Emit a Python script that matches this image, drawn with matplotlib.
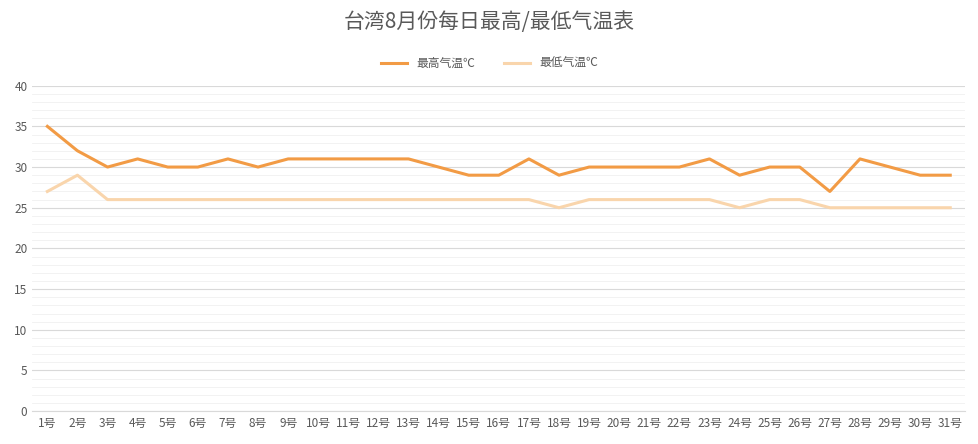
import matplotlib
matplotlib.use("Agg")
import matplotlib.pyplot as plt
from matplotlib import font_manager
from matplotlib.ticker import MultipleLocator

cjk = [f.name for f in font_manager.fontManager.ttflist if 'CJK' in f.name or 'Noto Sans SC' in f.name]
pref = [n for n in ['Noto Sans CJK SC', 'Noto Sans CJK JP', 'Noto Sans CJK TC', 'Noto Sans CJK KR'] if n in cjk] + cjk
plt.rcParams['font.family'] = 'sans-serif'
plt.rcParams['font.sans-serif'] = pref + ['DejaVu Sans']

days = [f"{i}号" for i in range(1, 32)]
high = [35,32,30,31,30,30,31,30,31,31,31,31,31,30,29,29,31,29,30,30,30,30,31,29,30,30,27,31,30,29,29]
low = [27,29,26,26,26,26,26,26,26,26,26,26,26,26,26,26,26,25,26,26,26,26,26,25,26,26,25,25,25,25,25]

fig = plt.figure(figsize=(9.79, 4.44), dpi=100)
ax = fig.add_axes([0.033, 0.074, 0.953, 0.733])
x = list(range(len(days)))
ax.plot(x, high, color='#F29B45', lw=2.2, label='最高气温℃')
ax.plot(x, low, color='#F9D5AC', lw=2.2, label='最低气温℃')
ax.set_xlim(-0.5, len(days) - 0.5)
ax.set_ylim(0, 40)
ax.yaxis.set_major_locator(MultipleLocator(5))
ax.yaxis.set_minor_locator(MultipleLocator(1))
ax.grid(axis='y', which='major', color='#D9D9D9', lw=0.8)
ax.grid(axis='y', which='minor', color='#F0F0F0', lw=0.6)
ax.set_axisbelow(True)
ax.set_xticks(x)
ax.set_xticklabels(days, fontsize=8.5, color='#595959')
ax.tick_params(axis='y', labelsize=8.5, labelcolor='#595959', length=0)
ax.tick_params(axis='y', which='minor', length=0)
ax.tick_params(axis='x', length=0, pad=4)
for s in ['top', 'right', 'left']:
    ax.spines[s].set_visible(False)
ax.spines['bottom'].set_color('#D9D9D9')
fig.suptitle('台湾8月份每日最高/最低气温表', y=0.975, fontsize=15, color='#595959')
fig.legend(loc='upper center', bbox_to_anchor=(0.5, 0.895), ncol=2, frameon=False,
           fontsize=8.5, labelcolor='#595959', handlelength=2.2, columnspacing=2.5)
fig.savefig('out.png', dpi=100)
